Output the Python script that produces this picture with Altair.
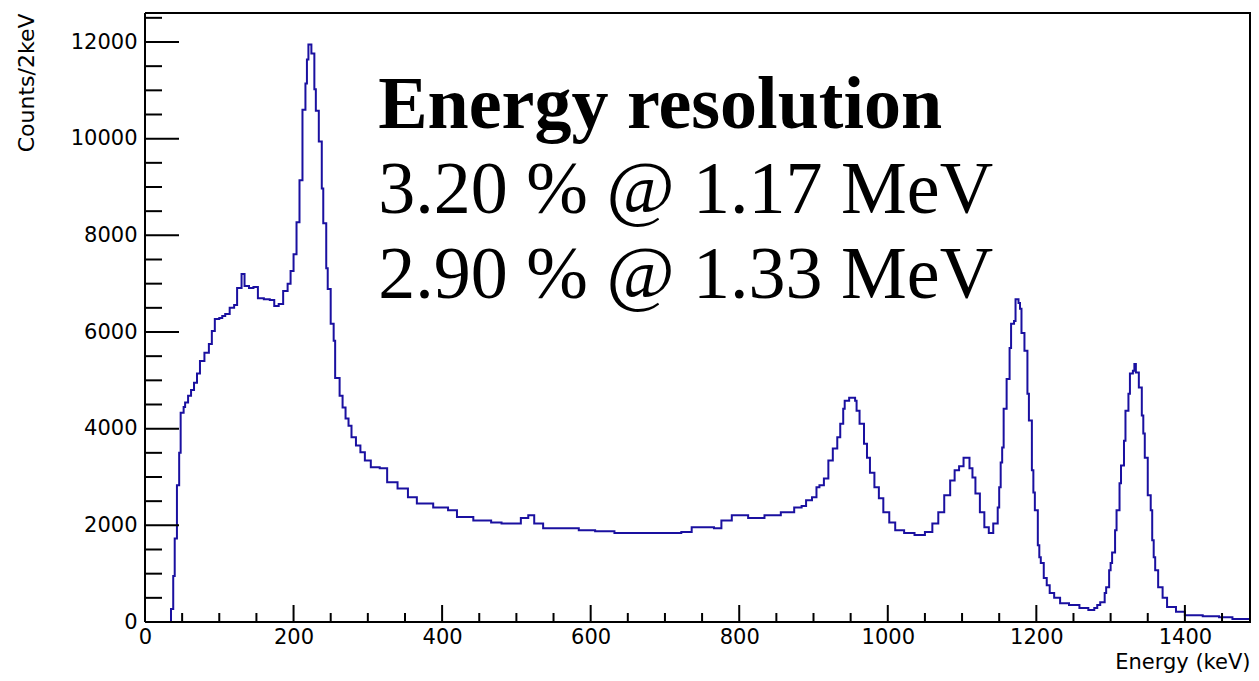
import altair as alt
import pandas as pd

# ---- data (energy in keV, counts per 2 keV) ----
energy = [0, 34, 35, 38, 40, 43, 46, 48, 52, 54, 58, 62, 66, 70, 74, 80, 86, 90, 94,
          100, 104, 108, 114, 120, 124, 130, 134, 140, 146, 152, 160, 168, 174, 180,
          186, 192, 196, 200, 204, 208, 212, 216, 218, 220, 224, 228, 230, 234, 238,
          240, 244, 246, 250, 254, 256, 262, 266, 270, 274, 278, 284, 290, 296, 304,
          316, 326, 340, 354, 366, 388, 408, 420, 442, 466, 480, 496, 506, 516, 524,
          536, 560, 584, 606, 632, 678, 722, 736, 766, 776, 790, 812, 834, 856, 874,
          884, 890, 898, 904, 908, 914, 920, 926, 932, 936, 940, 942, 948, 956, 958,
          962, 968, 972, 976, 982, 988, 994, 1002, 1010, 1022, 1036, 1050, 1060, 1068,
          1076, 1084, 1090, 1096, 1102, 1110, 1114, 1118, 1124, 1130, 1136, 1142, 1148,
          1150, 1152, 1154, 1156, 1160, 1164, 1166, 1170, 1172, 1176, 1178, 1180, 1184,
          1188, 1190, 1194, 1196, 1198, 1202, 1204, 1206, 1210, 1214, 1218, 1224, 1232,
          1244, 1258, 1270, 1278, 1282, 1286, 1292, 1294, 1298, 1300, 1302, 1306, 1308,
          1312, 1314, 1318, 1320, 1324, 1326, 1330, 1332, 1334, 1338, 1342, 1344, 1346,
          1350, 1354, 1356, 1358, 1360, 1364, 1370, 1376, 1388, 1400, 1424, 1446, 1464,
          1500]
counts = [0, 0, 270, 950, 1730, 2830, 3500, 4330, 4450, 4540, 4680, 4800, 4950, 5140,
          5400, 5570, 5750, 6020, 6270, 6290, 6330, 6370, 6500, 6560, 6910, 7200, 6950,
          6910, 6930, 6700, 6680, 6660, 6540, 6580, 6850, 7000, 7260, 7610, 8270, 9140,
          10600, 11140, 11640, 11950, 11760, 11020, 10580, 9940, 8970, 8250, 7320, 6890,
          6170, 5820, 5050, 4680, 4440, 4210, 4060, 3820, 3650, 3510, 3340, 3200, 3180,
          2890, 2760, 2580, 2450, 2370, 2310, 2170, 2100, 2060, 2040, 2040, 2150, 2210,
          2040, 1940, 1940, 1900, 1880, 1840, 1840, 1860, 1960, 1940, 2100, 2210, 2150,
          2210, 2270, 2370, 2400, 2520, 2580, 2790, 2830, 2970, 3340, 3590, 3820, 4100,
          4410, 4580, 4640, 4580, 4370, 4100, 3690, 3400, 3090, 2790, 2560, 2270, 2060,
          1900, 1840, 1800, 1860, 2040, 2270, 2620, 2930, 3140, 3220, 3400, 3180, 2990,
          2660, 2270, 1960, 1840, 2040, 2370, 2790, 3300, 3610, 4410, 5030, 5670, 6170,
          6230, 6680, 6600, 6480, 5980, 5610, 4720, 4170, 3140, 2680, 2310, 1590, 1340,
          1220, 910, 760, 600, 500, 390, 350, 290, 250, 290, 350, 410, 600, 720, 1070,
          1220, 1440, 1900, 2310, 2870, 3240, 3750, 4370, 4720, 5140, 5200, 5340, 5160,
          4850, 4270, 3900, 3400, 2620, 2310, 1690, 1340, 1070, 720, 500, 310, 210, 140,
          120, 100, 60, 60]

x_major = [0, 200, 400, 600, 800, 1000, 1200, 1400]
y_major = [0, 2000, 4000, 6000, 8000, 10000, 12000]

note_lines = ["Energy resolution", "3.20 % @ 1.17 MeV", "2.90 % @ 1.33 MeV"]
note_bold = [True, False, False]

# ---- layout constants ----
# the reference is cropped at its right edge; the visible window ends near 1489 keV
W, H = 1106, 609
X_MAX, Y_MAX = 1489, 12600
x_minor = [v for v in range(50, X_MAX + 1, 50) if v % 200 != 0]
y_minor = [v for v in range(500, Y_MAX, 500) if v % 2000 != 0]
note_x = 314
note_y = [10221, 8462, 6703]
LINE_COLOR = "#1a10a0"

xs = alt.Scale(domain=[0, X_MAX], nice=False, zero=False)
ys = alt.Scale(domain=[0, Y_MAX], nice=False, zero=False)

spec_df = pd.DataFrame({"E": energy, "C": counts})

hist = alt.Chart(spec_df).mark_line(
    interpolate="step-after", color=LINE_COLOR, strokeWidth=2, clip=True
).encode(
    x=alt.X("E:Q", scale=xs, axis=alt.Axis(
        values=x_major, format="d", ticks=False, domain=False, grid=False,
        labelFont="DejaVu Sans", labelFontSize=21, labelColor="black",
        labelPadding=4, labelFlush=False,
        title="Energy (keV)", titleFont="DejaVu Sans", titleFontSize=21,
        titleFontWeight="normal", titleColor="black",
        titleAlign="right", titleAnchor="end", titleBaseline="alphabetic",
        titleX=W - 1, titleY=46)),
    y=alt.Y("C:Q", scale=ys, axis=alt.Axis(
        values=y_major, format="d", ticks=False, domain=False, grid=False,
        labelFont="DejaVu Sans", labelFontSize=21, labelColor="black",
        labelPadding=8, labelFlush=False,
        title="Counts/2keV", titleFont="DejaVu Sans", titleFontSize=22,
        titleFontWeight="normal", titleColor="black",
        titleAngle=-90, titleAlign="right", titleBaseline="middle",
        titleX=-119, titleY=0)),
)

def yticks(vals, length):
    return alt.Chart(pd.DataFrame({"v": vals})).mark_rule(
        color="black", strokeWidth=2).encode(
        y=alt.Y("v:Q", scale=ys), x=alt.value(0), x2=alt.value(length))

def xticks(vals, length):
    return alt.Chart(pd.DataFrame({"v": vals})).mark_rule(
        color="black", strokeWidth=2).encode(
        x=alt.X("v:Q", scale=xs), y=alt.value(H), y2=alt.value(H - length))

def vline(px):
    return alt.Chart().mark_rule(color="black", strokeWidth=2).encode(
        x=alt.value(px), y=alt.value(0), y2=alt.value(H))

def hline(py):
    return alt.Chart().mark_rule(color="black", strokeWidth=2).encode(
        y=alt.value(py), x=alt.value(0), x2=alt.value(W))

note_df = pd.DataFrame({"t": note_lines, "b": note_bold,
                        "x": [note_x] * 3, "y": note_y})

note_bold_layer = alt.Chart(note_df).transform_filter("datum.b").mark_text(
    font="Liberation Serif", fontSize=74, fontWeight="bold", align="left",
    baseline="alphabetic", color="black").encode(
    x=alt.X("x:Q", scale=xs), y=alt.Y("y:Q", scale=ys), text="t:N")
note_reg_layer = alt.Chart(note_df).transform_filter("!datum.b").mark_text(
    font="Liberation Serif", fontSize=74, fontWeight="normal", align="left",
    baseline="alphabetic", color="black").encode(
    x=alt.X("x:Q", scale=xs), y=alt.Y("y:Q", scale=ys), text="t:N")

chart = alt.layer(
    hist,
    yticks(y_major, 34), yticks(y_minor, 17),
    xticks(x_major, 17), xticks(x_minor, 9),
    vline(0), vline(W - 1), hline(0), hline(H),
    note_bold_layer, note_reg_layer,
).properties(
    width=W, height=H,
    autosize=alt.AutoSizeParams(type="none"),
    padding={"left": 137, "top": 5, "right": 0, "bottom": 51},
).configure_view(stroke=None).configure(background="white")

chart.save("out.html", embed_options={"renderer": "svg", "actions": False})
